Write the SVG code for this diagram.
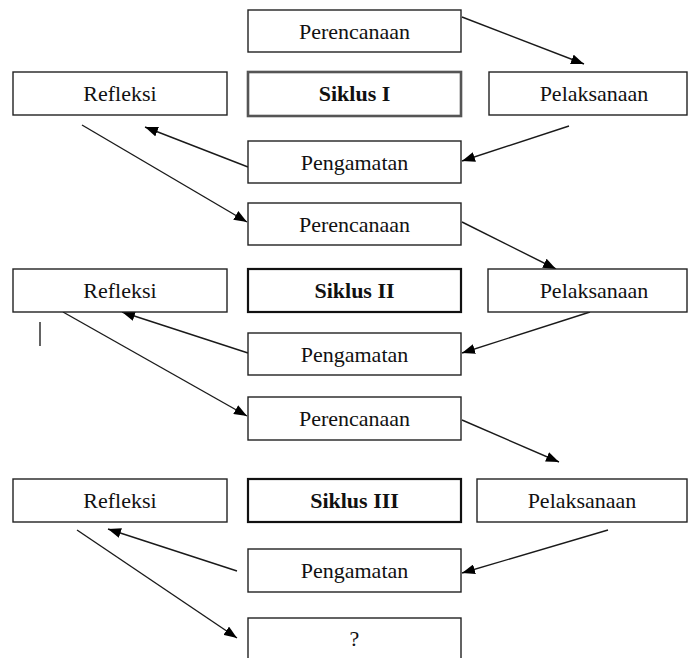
<svg xmlns="http://www.w3.org/2000/svg" width="688" height="658" viewBox="0 0 688 658">
<style>
.box{fill:#fff;stroke:#222;stroke-width:1.4}
.sik1{fill:#fff;stroke:#555;stroke-width:2.6}
.sik{fill:#fff;stroke:#111;stroke-width:2.2}
text{font-family:"Liberation Serif","Times New Roman",serif;font-size:22px;fill:#111;text-anchor:middle}
.b{font-weight:bold}
.c{stroke:#1a1a1a;stroke-width:1.4;fill:none;marker-end:url(#ah)}
</style>
<defs>
<marker id="ah" viewBox="0 0 13 10" refX="13" refY="5" markerWidth="13" markerHeight="10" markerUnits="userSpaceOnUse" orient="auto">
<path d="M0,0 L13,5 L0,10 z" fill="#000"/>
</marker>
</defs>
<rect width="688" height="658" fill="#fff"/>
<g id="connectors">
<line class="c" x1="462" y1="17" x2="584" y2="64"/>
<line class="c" x1="569" y1="126" x2="462" y2="161"/>
<line class="c" x1="248" y1="167" x2="145" y2="127"/>
<line class="c" x1="82" y1="125" x2="247" y2="222"/>
<line class="c" x1="462" y1="222" x2="556" y2="269"/>
<line class="c" x1="590" y1="312" x2="462" y2="353"/>
<line class="c" x1="248" y1="353" x2="122" y2="312"/>
<line class="c" x1="63" y1="312" x2="247" y2="416"/>
<line class="c" x1="462" y1="420" x2="559" y2="462"/>
<line class="c" x1="608" y1="530" x2="462" y2="573"/>
<line class="c" x1="237" y1="571" x2="108" y2="529"/>
<line class="c" x1="77" y1="530" x2="237" y2="638"/>
<line x1="40" y1="322" x2="40" y2="346" stroke="#222" stroke-width="1.4"/>
</g>
<g id="perencanaan1"><rect class="box" x="248" y="10" width="213" height="42"/><text x="354.5" y="38.5">Perencanaan</text></g>
<g id="refleksi1"><rect class="box" x="13" y="72" width="214" height="43"/><text x="120" y="101">Refleksi</text></g>
<g id="siklus1"><rect class="sik1" x="248" y="72" width="213" height="44"/><text class="b" x="354.5" y="101">Siklus I</text></g>
<g id="pelaksanaan1"><rect class="box" x="489" y="72" width="198" height="43"/><text x="594" y="101">Pelaksanaan</text></g>
<g id="pengamatan1"><rect class="box" x="248" y="141" width="213" height="42"/><text x="354.5" y="169.5">Pengamatan</text></g>
<g id="perencanaan2"><rect class="box" x="248" y="203" width="213" height="42"/><text x="354.5" y="231.5">Perencanaan</text></g>
<g id="refleksi2"><rect class="box" x="13" y="269" width="214" height="43"/><text x="120" y="298">Refleksi</text></g>
<g id="siklus2"><rect class="sik" x="248" y="269" width="213" height="43"/><text class="b" x="354.5" y="298">Siklus II</text></g>
<g id="pelaksanaan2"><rect class="box" x="488" y="269" width="199" height="43"/><text x="594" y="298">Pelaksanaan</text></g>
<g id="pengamatan2"><rect class="box" x="248" y="333" width="213" height="42"/><text x="354.5" y="361.5">Pengamatan</text></g>
<g id="perencanaan3"><rect class="box" x="248" y="397" width="213" height="43"/><text x="354.5" y="426">Perencanaan</text></g>
<g id="refleksi3"><rect class="box" x="13" y="479" width="214" height="43"/><text x="120" y="508">Refleksi</text></g>
<g id="siklus3"><rect class="sik" x="248" y="479" width="213" height="43"/><text class="b" x="354.5" y="508">Siklus III</text></g>
<g id="pelaksanaan3"><rect class="box" x="477" y="479" width="210" height="43"/><text x="582" y="508">Pelaksanaan</text></g>
<g id="pengamatan3"><rect class="box" x="248" y="549" width="213" height="43"/><text x="354.5" y="578">Pengamatan</text></g>
<g id="question"><rect class="box" x="248" y="618" width="213" height="44"/><text x="354.5" y="646">?</text></g>
</svg>
